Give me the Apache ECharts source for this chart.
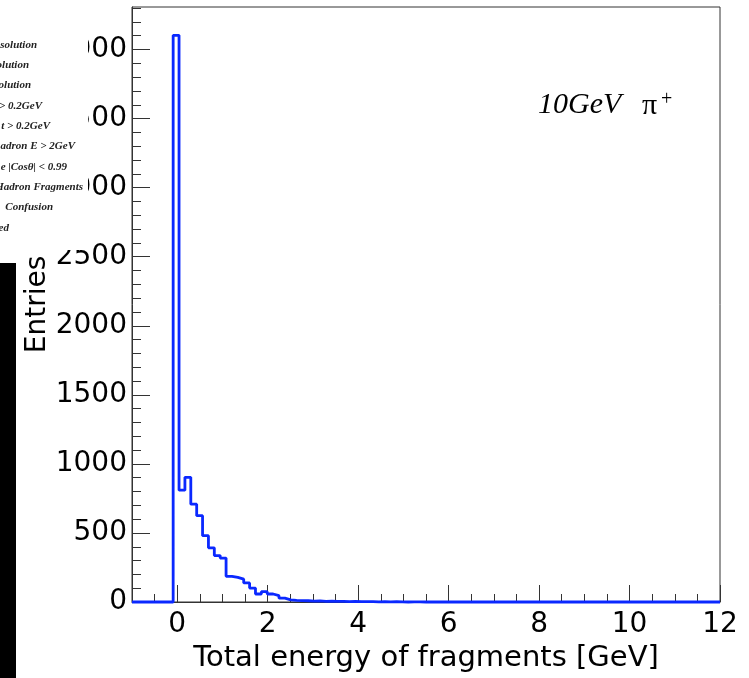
<!DOCTYPE html>
<html><head><meta charset="utf-8">
<script src="https://cdn.jsdelivr.net/npm/echarts@6/dist/echarts.min.js"></script>
<style>html,body{margin:0;padding:0;background:#fff}#c{width:749px;height:678px}</style>
</head><body><div id="c"></div>
<script>
// Histogram binning: 100 bins from -1 to 12 GeV
const binLow = -1;
const binWidth = 0.13;
const counts = [
  0, 0, 0, 0, 0, 0, 0, 4103, 810, 903,
  708, 625, 480, 392, 336, 318, 186, 178, 165, 138,
  101, 58, 75, 58, 46, 28, 15, 12, 10, 9,
  7, 8, 5, 6, 4, 5, 3, 4, 2, 3,
  2, 1, 2, 1, 2, 1, 0, 1, 1, 0,
  1, 0, 0, 1, 0, 0, 0, 0, 0, 0,
  0, 0, 0, 0, 0, 0, 0, 0, 0, 0,
  0, 0, 0, 0, 0, 0, 0, 0, 0, 0,
  0, 0, 0, 0, 0, 0, 0, 0, 0, 0,
  0, 0, 0, 0, 0, 0, 0, 0, 0, 0
];
const xMajorTicks = [0, 2, 4, 6, 8, 10, 12];
const xMinorTicks = [-0.5, 0.5, 1, 1.5, 2.5, 3, 3.5, 4.5, 5, 5.5, 6.5, 7, 7.5, 8.5, 9, 9.5, 10.5, 11, 11.5];
const yMajorTicks = [0, 500, 1000, 1500, 2000, 2500, 3000, 3500, 4000];
const yMinorTicks = [100, 200, 300, 400, 600, 700, 800, 900, 1100, 1200, 1300, 1400, 1600, 1700, 1800, 1900,
  2100, 2200, 2300, 2400, 2600, 2700, 2800, 2900, 3100, 3200, 3300, 3400, 3600, 3700, 3800, 3900, 4100, 4200, 4300];
const xTitle = 'Total energy of fragments [GeV]';
const yTitle = 'Entries';
const legendLines = [
  'solution', 'olution', 'olution', '> 0.2GeV', 't > 0.2GeV',
  'adron E > 2GeV', 'e |Cos\u03b8| < 0.99', 'Hadron Fragments', 'Confusion', 'ed'
];
const legendEnds = [37, 29, 31, 42, 50, 75, 67, 83, 53, 9];
const annotationMain = '10GeV';
const annotationParticle = '\u03c0';
const annotationCharge = '+';

const data = [];
for (let k = 0; k < counts.length; k++) data.push([binLow + k * binWidth, counts[k]]);
data.push([binLow + counts.length * binWidth, counts[counts.length - 1]]);

const axisColor = '#333';
const labelFont = 'DejaVu Sans';

const graphics = [
  { type: 'rect', shape: { x: 0, y: 0, width: 88, height: 250 }, style: { fill: '#fff' }, z: 100 },
  { type: 'rect', shape: { x: 0, y: 263, width: 16, height: 415 }, style: { fill: '#000' }, z: 100 }
];
legendLines.forEach((t, i) => {
  graphics.push({
    type: 'text', z: 101,
    style: {
      x: legendEnds[i], y: 45 + i * 20.3, text: t,
      font: 'italic bold 11px "Liberation Serif"', fill: '#222',
      align: 'right', verticalAlign: 'middle'
    }
  });
});
graphics.push({ type: 'text', z: 101, style: { x: 538, y: 105, text: annotationMain,
  font: 'italic 30px "Liberation Serif"', fill: '#000', align: 'left', verticalAlign: 'middle' } });
graphics.push({ type: 'text', z: 101, style: { x: 642, y: 106, text: annotationParticle,
  font: '30px "Liberation Serif"', fill: '#000', align: 'left', verticalAlign: 'middle' } });
graphics.push({ type: 'text', z: 101, style: { x: 661, y: 100, text: annotationCharge,
  font: '20px "Liberation Serif"', fill: '#000', align: 'left', verticalAlign: 'middle' } });

const chart = echarts.init(document.getElementById('c'), null, { renderer: 'canvas' });
chart.setOption({
  animation: false,
  backgroundColor: '#fff',
  grid: { left: 132, top: 7, right: 29, bottom: 75, show: true, borderColor: axisColor, borderWidth: 1, containLabel: false },
  xAxis: [
    {
      type: 'value', min: -1, max: 12, position: 'bottom',
      axisLine: { show: true, onZero: false, lineStyle: { color: axisColor, width: 1 } },
      axisTick: { show: true, inside: true, length: 17, customValues: xMajorTicks, lineStyle: { color: axisColor, width: 1 } },
      axisLabel: { customValues: xMajorTicks, fontSize: 28, fontFamily: labelFont, color: '#000', margin: 9,
        formatter: v => String(v) },
      splitLine: { show: false },
      name: xTitle, nameLocation: 'middle', nameGap: 42, nameMoveOverlap: false,
      nameTextStyle: { fontSize: 29, fontFamily: labelFont, color: '#000' }
    },
    {
      type: 'value', min: -1, max: 12, position: 'bottom',
      axisLine: { show: false, onZero: false },
      axisTick: { show: true, inside: true, length: 8, customValues: xMinorTicks, lineStyle: { color: axisColor, width: 1 } },
      axisLabel: { show: false }, splitLine: { show: false }
    }
  ],
  yAxis: [
    {
      type: 'value', min: 0, max: 4308, position: 'left',
      axisLine: { show: true, onZero: false, lineStyle: { color: axisColor, width: 1 } },
      axisTick: { show: true, inside: true, length: 18, customValues: yMajorTicks, lineStyle: { color: axisColor, width: 1 } },
      axisLabel: { customValues: yMajorTicks, fontSize: 28, fontFamily: labelFont, color: '#000', margin: 5,
        formatter: v => String(v) },
      splitLine: { show: false },
      name: yTitle, nameLocation: 'middle', nameGap: 80, nameRotate: 90, nameMoveOverlap: false,
      nameTextStyle: { fontSize: 28, fontFamily: labelFont, color: '#000' }
    },
    {
      type: 'value', min: 0, max: 4308, position: 'left',
      axisLine: { show: false, onZero: false },
      axisTick: { show: true, inside: true, length: 9, customValues: yMinorTicks, lineStyle: { color: axisColor, width: 1 } },
      axisLabel: { show: false }, splitLine: { show: false }
    }
  ],
  series: [{
    type: 'line', xAxisIndex: 0, yAxisIndex: 0, data: data, step: 'end',
    symbol: 'none', clip: false,
    lineStyle: { color: '#0a28ff', width: 2.8 }
  }],
  graphic: graphics
});
</script>
</body></html>
